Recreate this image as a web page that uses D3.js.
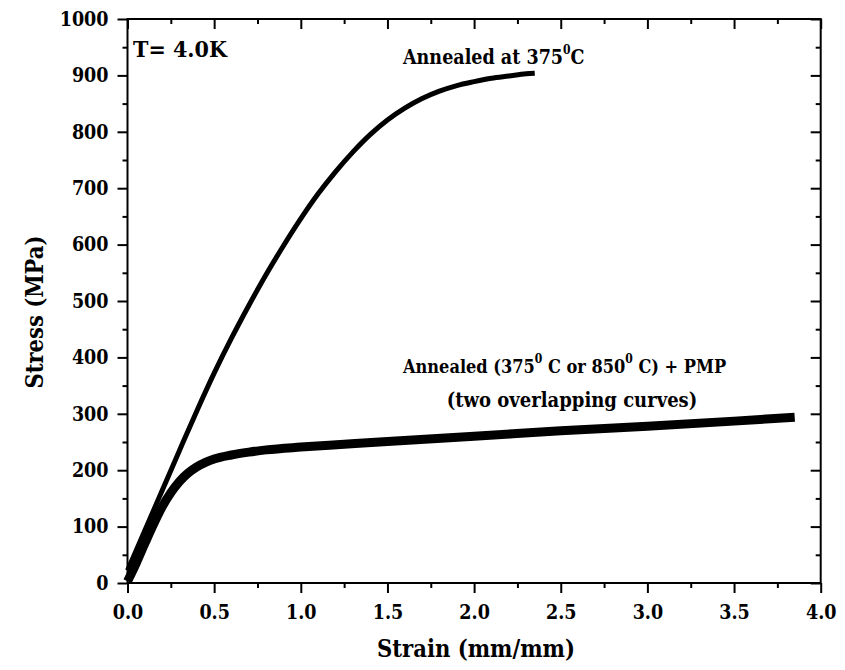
<!DOCTYPE html>
<html>
<head>
<meta charset="utf-8">
<script src="https://cdn.jsdelivr.net/npm/d3@7"></script>
<style>
  html, body { margin: 0; padding: 0; background: #fff; }
  svg { display: block; }
  text { font-family: "DejaVu Serif Condensed", "DejaVu Serif", serif; font-weight: bold; font-stretch: condensed; fill: #000; }
</style>
</head>
<body>
<svg id="chart" width="845" height="670"></svg>
<script>
// ---- data ----
const annealedStrain = [0.0, 0.1, 0.2, 0.3, 0.4, 0.5, 0.6, 0.7, 0.8, 0.9, 1.0, 1.1, 1.2, 1.3, 1.4, 1.5, 1.6, 1.7, 1.8, 1.9, 2.0, 2.1, 2.2, 2.3, 2.35];
const annealedStress = [22, 93, 164, 235, 305, 372, 434, 492, 547, 598, 646, 690, 729, 764, 795, 821, 842, 859, 872, 882, 889, 895, 899, 903, 904];

const pmpStrain = [0.0, 0.05, 0.1, 0.15, 0.2, 0.25, 0.3, 0.35, 0.4, 0.45, 0.5, 0.6, 0.7, 0.8, 1.0, 1.25, 1.5, 2.0, 2.5, 3.0, 3.5, 3.85];
const pmpStress = [3, 35, 70, 104, 135, 160, 180, 195, 206, 214, 220, 227, 232, 236, 241, 246, 251, 260, 270, 278, 287, 294];

const xTicks = [0, 0.5, 1.0, 1.5, 2.0, 2.5, 3.0, 3.5, 4.0];
const yTicks = [0, 100, 200, 300, 400, 500, 600, 700, 800, 900, 1000];
const xMinorTicks = [0.25, 0.75, 1.25, 1.75, 2.25, 2.75, 3.25, 3.75];
const yMinorTicks = [50, 150, 250, 350, 450, 550, 650, 750, 850, 950];

const xTitle = "Strain (mm/mm)";
const yTitle = "Stress (MPa)";

// ---- layout ----
const L = 127.5, R = 820.7, T = 19, B = 583;
const svg = d3.select("#chart");
const x = d3.scaleLinear().domain([0, 4]).range([L, R]);
const y = d3.scaleLinear().domain([0, 1000]).range([B, T]);

const axisStyle = g => {
  g.selectAll(".domain").remove();
  g.selectAll(".tick line").attr("stroke", "#000").attr("stroke-width", 2);
};

// bottom
svg.append("g").attr("transform", `translate(0,${B})`)
  .call(d3.axisBottom(x).tickValues(xTicks).tickFormat(d3.format(".1f")).tickSize(10).tickPadding(12))
  .call(axisStyle)
  .call(g => g.selectAll(".tick text").attr("font-size", 19.5).attr("font-family", null));
svg.append("g").attr("transform", `translate(0,${B})`)
  .call(d3.axisBottom(x).tickValues(xMinorTicks).tickFormat("").tickSize(5))
  .call(axisStyle);
// top (inward)
svg.append("g").attr("transform", `translate(0,${T})`)
  .call(d3.axisTop(x).tickValues(xTicks).tickFormat("").tickSize(-10))
  .call(axisStyle);
svg.append("g").attr("transform", `translate(0,${T})`)
  .call(d3.axisTop(x).tickValues(xMinorTicks).tickFormat("").tickSize(-5))
  .call(axisStyle);
// left
svg.append("g").attr("transform", `translate(${L},0)`)
  .call(d3.axisLeft(y).tickValues(yTicks).tickFormat(d3.format("d")).tickSize(10).tickPadding(9))
  .call(axisStyle)
  .call(g => g.selectAll(".tick text").attr("font-size", 19.5).attr("font-family", null));
svg.append("g").attr("transform", `translate(${L},0)`)
  .call(d3.axisLeft(y).tickValues(yMinorTicks).tickFormat("").tickSize(5))
  .call(axisStyle);
// right (inward)
svg.append("g").attr("transform", `translate(${R},0)`)
  .call(d3.axisRight(y).tickValues(yTicks).tickFormat("").tickSize(-10))
  .call(axisStyle);
svg.append("g").attr("transform", `translate(${R},0)`)
  .call(d3.axisRight(y).tickValues(yMinorTicks).tickFormat("").tickSize(-5))
  .call(axisStyle);

// frame
svg.append("rect").attr("x", L).attr("y", T).attr("width", R - L).attr("height", B - T)
  .attr("fill", "none").attr("stroke", "#000").attr("stroke-width", 2);

// curves
const line = d3.line().x(d => x(d[0])).y(d => y(d[1])).curve(d3.curveMonotoneX);
const annealed = annealedStrain.map((s, i) => [s, annealedStress[i]]);
const pmp = pmpStrain.map((s, i) => [s, pmpStress[i]]);

svg.append("path").datum(pmp).attr("d", line)
  .attr("fill", "none").attr("stroke", "#000").attr("stroke-width", 9).attr("stroke-linecap", "butt");
svg.append("path").datum(annealed).attr("d", line)
  .attr("fill", "none").attr("stroke", "#000").attr("stroke-width", 5).attr("stroke-linecap", "butt");

// axis titles
svg.append("text").attr("x", 476).attr("y", 657).attr("text-anchor", "middle")
  .attr("font-size", 23.5).text(xTitle);
svg.append("text").attr("transform", "translate(43,312) rotate(-90)").attr("text-anchor", "middle")
  .attr("font-size", 23.5).text(yTitle);

// annotations
svg.append("text").attr("x", 133).attr("y", 57).attr("font-size", 23).text("T= 4.0K");

const a1 = svg.append("text").attr("x", 403).attr("y", 64).attr("font-size", 19.5);
a1.append("tspan").text("Annealed at 375");
a1.append("tspan").attr("font-size", 12).attr("dy", -10).text("0");
a1.append("tspan").attr("dy", 10).text("C");

const a2 = svg.append("text").attr("x", 403).attr("y", 373).attr("font-size", 18);
a2.append("tspan").text("Annealed (375");
a2.append("tspan").attr("font-size", 12).attr("dy", -10).text("0");
a2.append("tspan").attr("dy", 10).text(" C or 850");
a2.append("tspan").attr("font-size", 12).attr("dy", -10).text("0");
a2.append("tspan").attr("dy", 10).text(" C) + PMP");

svg.append("text").attr("x", 572).attr("y", 407).attr("text-anchor", "middle")
  .attr("font-size", 20).text("(two overlapping curves)");
</script>
</body>
</html>
